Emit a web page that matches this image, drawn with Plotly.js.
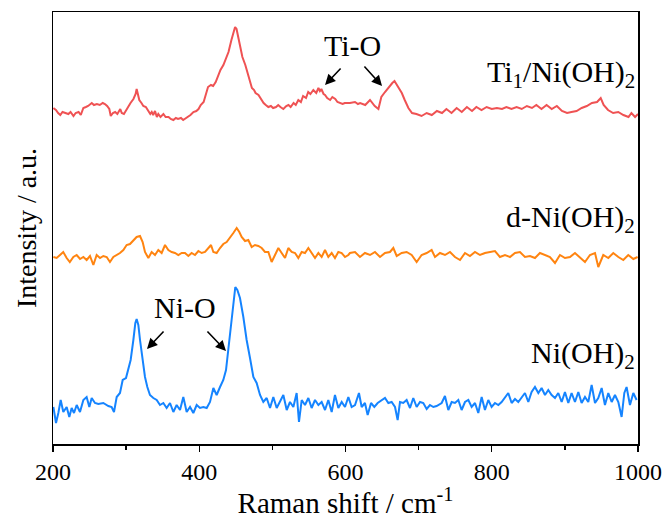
<!DOCTYPE html>
<html>
<head>
<meta charset="utf-8">
<script src="https://cdn.plot.ly/plotly-3.0.1.min.js"></script>
<style>html,body{margin:0;padding:0;background:#fff;}#chart{width:669px;height:519px;}</style>
</head>
<body>
<div id="chart"></div>
<script>
// Ti1/Ni(OH)2 (offset intensity, a.u.)
const tiX = [200.5,204,207,210,213,216,221,224,228,231,235,238,241.5,245,248,253,256,260,264,268,271,274,277,279,282,285,288,292,294,297,300,303,306,310,313,314.4,316,318,321,323.5,327,330,333,335,337,339.5,342,344,347,351,354,358,361,364.6,368,371,375,378,382,385,388,392,396,399,402,406,409,412,416,419,422.5,426,429,433,437,440,444,446.6,449,451,453,456,459,463,466,469,472,475,477,481,484,488,491,494.5,498,501,505,508,511,515,519,522,525,529,532,535.5,539,542,546,549,552,556,560,563,565,567,570,572,575,579,582,586,589,592.5,596,599,606,613,617,620,627,633.5,637,640,645,649,654,661,664,667,670,673,677,681,686,691,697,704,711,718,725,732,738,745,752,759,766,773,779,786,793,800,807,814,820,827,834,841,848,855,861,868,875,882,889,896,903,909,916,923,930,937,944,949,953,959,966,973,980,987,991,996,1000];
const tiY = [336,334,331,329,332,331,330,332,328,331,332,329,336,337,338,341,339,340,339,341,340,338,335,328,331,332,330,335,331,330,334,337,341,345,350,355,349,344,341,338,337,334,330,332,329,333,327,330,327,330,327,327,325,324,326,325,326,324,326,327,329,332,333,335,339,342,349,357,359,358,362,369,374,379,386,392,404,411,417,415,407,397,387,379,371,362,356,354,351,349,345,341,339,337,338,336,337,339,337,335,338,339,337,341,339,344,342,348,346,352,350,354,351,356,353,355,350,349,346,344,347,345,342,341,340,341,341,342,340,341,339,344,341,338,335,347,352,359,361,363,359,356,351,344,336,331,330,328,331,329,333,331,335,331,336,332,337,333,337,334,337,335,336,335,337,335,337,335,338,336,339,335,339,335,338,333,331,332,333,336,338,341,342,346,339,334,331,332,329,327,331,327,330];

// d-Ni(OH)2
const dX = [200.5,205,209.6,214,218.7,223,227.8,232.4,237,241.5,246,250.6,255.2,259.7,264.3,268.8,273.4,277.9,282.5,287,291.6,296.2,300.7,305.3,309.9,314.4,319,322.6,325.8,330.4,334.9,339.5,344,348.6,353.2,357.7,362.3,366.8,371.4,376,380.5,385.1,389.6,394.2,398.8,403.3,407.9,412.4,416.1,419.3,423.8,428.4,432.9,437.5,442.1,446.6,451.2,454.8,458,462.6,467.1,471.7,476.2,480.8,485.4,489.9,494.5,499,503.6,508.2,512.7,517.3,521.8,526.4,531,535.5,540.1,544.6,549.2,553.7,558.3,562.9,567.4,572,576.5,581.1,585.6,590.2,594.8,599.3,603.9,606.1,613,619.8,626.6,633.5,640.3,647.2,654,660.8,665.4,670,676.8,683.6,690.5,697.3,704.1,711,717.8,722.4,729.2,736,742.9,749.7,756.6,763.4,770.2,777.1,783.9,790.7,797.6,804.4,811.2,818.1,824.9,831.8,838.6,845.4,852.3,859.1,865.9,872.8,879.6,886.5,893.3,900.1,907,913.8,920.6,927.5,934.3,941.2,945.7,952.5,959.4,966.2,973.1,979.9,986.7,993.6,999.5];
const dY = [187,186,189,192,186,182,187,189,185,187,184,188,179,189,186,188,187,182,187,189,191,194,199,200,204,207,208,202,192,186,192,189,194,191,199,194,192,191,189,191,191,188,191,189,193,191,192,196,199,192,191,196,200,202,206,211,216,212,207,203,204,197,199,198,196,192,192,182,189,196,191,186,196,192,191,186,192,191,196,191,186,191,187,194,187,191,186,192,191,187,189,191,192,187,191,189,192,187,191,192,196,188,191,192,189,182,189,191,194,187,191,189,192,187,184,191,188,192,189,191,192,193,187,189,187,191,192,187,188,186,191,189,187,181,189,186,187,191,187,182,189,191,177,189,186,191,187,184,189,185,187];

// Ni(OH)2
const nX = [200.5,204.1,207.3,210.5,214.1,218.7,222.3,225.5,228.7,232.4,236.9,241.5,246,249.7,252.9,257.4,262,268.8,275.7,280.2,283.4,287.1,291.6,295.3,299.8,303,306.2,309.9,312.6,314.4,316.7,319,322.6,325.8,329,332.6,337.2,341.8,346.3,350.9,355.4,360,364.6,369.1,373.7,378.2,382.8,387.4,391.9,396.5,401,405.6,410.2,414.7,419.3,423.8,428.4,432.9,436.6,439.8,443,446.6,449.3,452.1,455.7,460.3,464.8,469.4,474,478.5,483.1,487.6,492.2,496.8,501.3,505.9,510.4,515,519.6,524.1,528.7,533.2,536.4,540.1,544.6,549.2,553.7,558.3,562.9,567.4,572,576.5,581.1,585.6,590.2,594.8,599.3,603.9,608.4,613,618.4,622.1,626.6,630.3,634.9,639.4,644,649.4,654,658.6,663.1,667.7,671.3,674.5,679,683.6,688.2,692.7,697.3,701.9,706.4,711,715.5,720.1,724.6,731.5,736,740.6,745.2,749.7,754.3,758.8,763.4,768,772.5,777.1,781.6,786.2,790.7,795.3,799.8,804.4,809,813.5,818.1,822.6,827.2,831.8,836.3,840.9,845.4,850,854.5,859.1,863.7,868.2,872.8,877.3,881.9,886.5,891,895.6,900.1,904.7,909.2,913.8,918.4,922.9,927.5,932,936.6,941.2,945.7,950.3,954.8,959.4,964,968.5,973.1,977.6,981.3,984.4,989,993.6,998.1];
const nY = [37,21,31,44,32,37,27,36,31,39,32,44,47,37,46,41,40,41,38,37,32,47,51,64,66,74,84,104,121,125,119,104,84,67,57,49,46,44,39,41,36,41,32,39,34,47,32,37,31,39,36,37,36,42,56,49,57,64,74,94,117,134,157,154,146,127,104,86,67,61,49,42,46,36,47,36,42,49,34,42,37,51,22,44,39,46,36,44,39,42,34,44,32,49,36,42,37,47,37,39,51,37,41,29,41,37,41,44,46,41,42,37,24,42,41,44,36,46,37,42,41,35,39,37,38,41,48,34,42,41,44,34,42,44,37,41,31,47,34,44,37,41,39,42,46,51,41,45,42,47,51,42,52,57,51,56,49,54,49,46,51,42,52,41,51,42,52,41,47,42,59,41,46,56,39,51,42,49,42,27,51,57,39,51,44];

const xTicks = [200, 400, 600, 800, 1000];

const serif = '"Liberation Serif", "Times New Roman", serif';

const traces = [
  {x: tiX, y: tiY, type: 'scatter', mode: 'lines', line: {color: '#ef5253', width: 2}, hoverinfo: 'skip'},
  {x: dX, y: dY, type: 'scatter', mode: 'lines', line: {color: '#ff8410', width: 2}, hoverinfo: 'skip'},
  {x: nX, y: nY, type: 'scatter', mode: 'lines', line: {color: '#1584ff', width: 2}, hoverinfo: 'skip'}
];

const arrow = (x, y, ax, ay) => ({x, y, xref: 'x', yref: 'y', ax, ay, text: '', showarrow: true,
  arrowhead: 2, arrowsize: 1.3, arrowwidth: 1.6, arrowcolor: '#000'});
const label = (x, y, text, anchor) => ({x, y, xref: 'x', yref: 'y', text, showarrow: false,
  xanchor: anchor, yanchor: 'middle', font: {family: serif, size: 30, color: '#000'}});

const layout = {
  width: 669, height: 519,
  margin: {l: 53, r: 31, t: 12, b: 75},
  paper_bgcolor: '#fff', plot_bgcolor: '#fff',
  showlegend: false,
  font: {family: serif, color: '#000'},
  xaxis: {
    range: [200, 1000], tickvals: xTicks, ticktext: xTicks.map(String),
    ticks: 'outside', ticklen: 6, tickwidth: 1.3, tickcolor: '#000',
    minor: {dtick: 100, tick0: 200, ticks: 'outside', ticklen: 4, tickwidth: 1.3, tickcolor: '#000'},
    showline: true, linecolor: '#000', linewidth: 1.5, mirror: true,
    showgrid: false, zeroline: false,
    tickfont: {family: serif, size: 24, color: '#000'},
    title: {text: 'Raman shift / cm<sup>-1</sup>', font: {family: serif, size: 29, color: '#000'}, standoff: 2}
  },
  yaxis: {
    range: [0, 432], showticklabels: false, ticks: '',
    showline: true, linecolor: '#000', linewidth: 1.5, mirror: true,
    showgrid: false, zeroline: false,
    title: {text: 'Intensity / a.u.', font: {family: serif, size: 28, color: '#000'}, standoff: 6}
  },
  annotations: [
    label(610, 399, 'Ti-O', 'center'),
    arrow(572, 359, 17, -18),
    arrow(650, 358, -19, -21),
    label(380.5, 137, 'Ni-O', 'center'),
    arrow(328.5, 95, 18, -19),
    arrow(436.6, 93, -20, -21),
    label(998, 370, 'Ti<sub>1</sub>/Ni(OH)<sub>2</sub>', 'right'),
    label(998, 225, 'd-Ni(OH)<sub>2</sub>', 'right'),
    label(998, 89, 'Ni(OH)<sub>2</sub>', 'right')
  ]
};

Plotly.newPlot('chart', traces, layout, {displayModeBar: false, staticPlot: true});
</script>
</body>
</html>
